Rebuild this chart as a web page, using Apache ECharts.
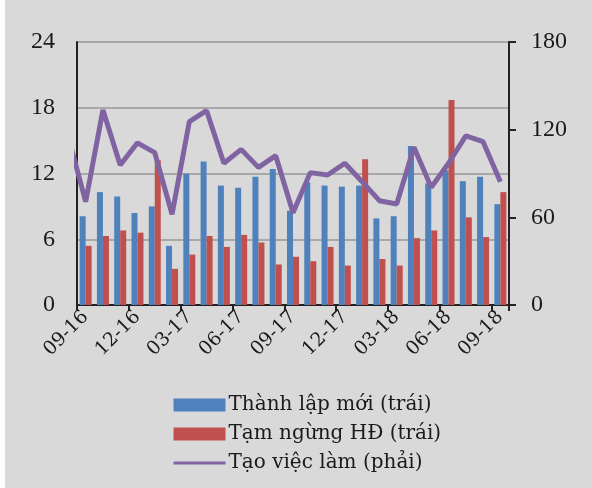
<!DOCTYPE html>
<html>
<head>
<meta charset="utf-8">
<script src="https://cdn.jsdelivr.net/npm/echarts@6/dist/echarts.min.js"></script>
<style>
  html, body { margin: 0; padding: 0; background: #fff; }
  #chart { position: absolute; left: 5px; top: 0; width: 587px; height: 488px; background: #d9d9d9; }
</style>
</head>
<body>
<div id="chart"></div>
<script>
// tháng (09-16 .. 09-18)
const months = ['09-16','10-16','11-16','12-16','01-17','02-17','03-17','04-17','05-17','06-17','07-17','08-17',
  '09-17','10-17','11-17','12-17','01-18','02-18','03-18','04-18','05-18','06-18','07-18','08-18','09-18'];
// Thành lập mới (trái)
const newFirms = [8.1, 10.3, 9.9, 8.4, 9.0, 5.4, 12.0, 13.1, 10.9, 10.7, 11.7, 12.4,
  8.6, 11.2, 10.9, 10.8, 10.9, 7.9, 8.1, 14.5, 11.1, 12.3, 11.3, 11.7, 9.2];
// Tạm ngừng HĐ (trái)
const suspended = [5.4, 6.3, 6.8, 6.6, 13.2, 3.3, 4.6, 6.3, 5.3, 6.4, 5.7, 3.7,
  4.4, 4.0, 5.3, 3.6, 13.3, 4.2, 3.6, 6.1, 6.8, 18.7, 8.0, 6.2, 10.3];
// Tạo việc làm (phải) - điểm đầu là tháng 08-16, bị cắt ở mép trục
const jobsPrev = 115;
const jobs = [70.7, 133.5, 95.8, 111, 104.3, 62, 125.5, 133, 97, 106.5, 94.2, 102.2,
  63.2, 90.6, 89, 97, 84.4, 71.4, 69.1, 107.9, 80.5, 97, 115.7, 111.8, 84.4];

const leftTicks = { min: 0, max: 24, interval: 6 };
const rightTicks = { min: 0, max: 180, interval: 60 };

const numFont = '"Liberation Serif", serif';
const textFont = '"DejaVu Serif", serif';
const textColor = '#1a1a1a';

// điểm của đường đặt ở giữa mỗi cột tháng
const jobsPoints = [[-0.5, jobsPrev]].concat(jobs.map((v, i) => [i + 0.5, v]));

const chart = echarts.init(document.getElementById('chart'));
chart.setOption({
  animation: false,
  backgroundColor: '#d9d9d9',
  textStyle: { fontFamily: textFont, color: textColor },
  grid: { left: 72, right: 83, top: 42, bottom: 183 },
  legend: {
    orient: 'vertical',
    left: 167,
    top: 395,
    padding: 0,
    itemWidth: 52,
    itemHeight: 13,
    itemGap: 9,
    textStyle: { fontFamily: textFont, fontSize: 20, lineHeight: 20, color: textColor, padding: [0, 0, 0, -2] },
    data: [
      { name: 'Thành lập mới (trái)', icon: 'rect' },
      { name: 'Tạm ngừng HĐ (trái)', icon: 'rect' },
      { name: 'Tạo việc làm (phải)', lineStyle: { width: 3 }, itemStyle: { opacity: 0, borderWidth: 0 } }
    ]
  },
  xAxis: [
    {
      type: 'category',
      data: months,
      boundaryGap: true,
      axisLine: { lineStyle: { color: '#222', width: 2 } },
      axisTick: { show: true, interval: 2, length: 6, lineStyle: { color: '#222', width: 2 } },
      axisLabel: { interval: 2, rotate: 45, fontSize: 19, color: textColor, margin: 9, fontFamily: textFont },
      splitLine: { show: false }
    },
    {
      type: 'value',
      min: 0,
      max: months.length,
      show: false
    }
  ],
  yAxis: [
    {
      type: 'value',
      min: leftTicks.min, max: leftTicks.max, interval: leftTicks.interval,
      axisLine: { show: true, lineStyle: { color: '#222', width: 2 } },
      axisTick: { show: false },
      axisLabel: { fontSize: 24, color: textColor, margin: 22, fontFamily: numFont },
      splitLine: { lineStyle: { color: '#a8a8a8', width: 2 } }
    },
    {
      type: 'value',
      min: rightTicks.min, max: rightTicks.max, interval: rightTicks.interval,
      axisLine: { show: true, lineStyle: { color: '#222', width: 2 } },
      axisTick: { show: true, length: 7, lineStyle: { color: '#222', width: 2 } },
      axisLabel: { fontSize: 24, color: textColor, margin: 22, fontFamily: numFont },
      splitLine: { show: false }
    }
  ],
  series: [
    {
      name: 'Thành lập mới (trái)',
      type: 'bar',
      data: newFirms,
      barWidth: 6,
      barGap: '0%',
      itemStyle: { color: '#4f81bd' }
    },
    {
      name: 'Tạm ngừng HĐ (trái)',
      type: 'bar',
      data: suspended,
      barWidth: 6,
      barGap: '0%',
      itemStyle: { color: '#c0504d' }
    },
    {
      name: 'Tạo việc làm (phải)',
      type: 'line',
      xAxisIndex: 1,
      yAxisIndex: 1,
      data: jobsPoints,
      symbol: 'none',
      clip: true,
      lineStyle: { color: '#8064a2', width: 5 },
      itemStyle: { color: '#8064a2' },
      z: 5
    }
  ]
});
</script>
</body>
</html>
